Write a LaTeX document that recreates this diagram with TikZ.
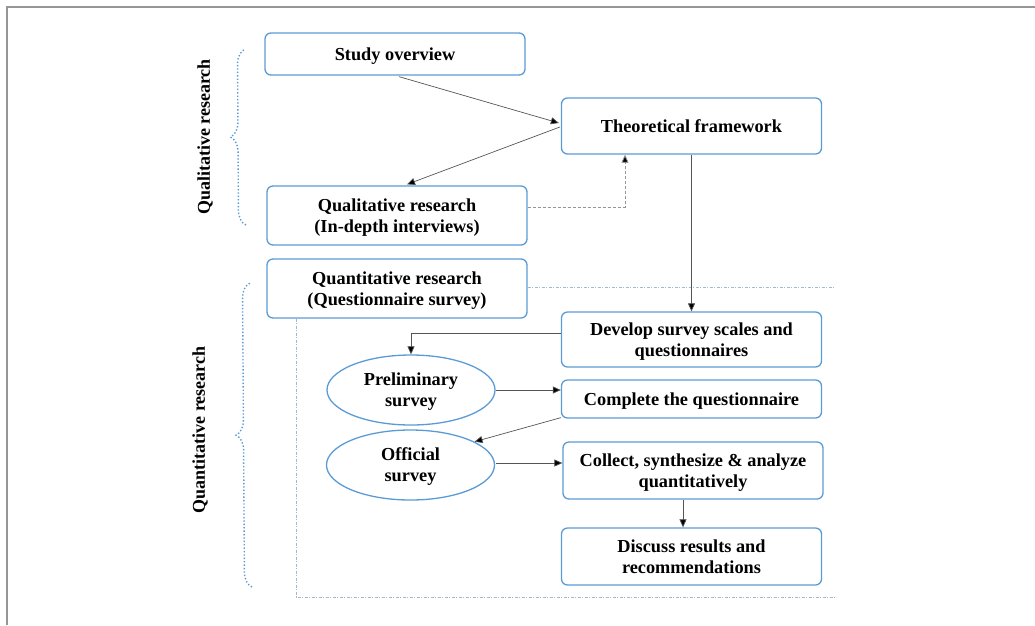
\documentclass[tikz,border=0pt]{standalone}
\usepackage{fontspec}
\setmainfont{Liberation Serif}
\usetikzlibrary{arrows.meta,decorations.pathreplacing,calc,shapes.geometric}
\definecolor{boxblue}{RGB}{91,155,213}
\definecolor{linegray}{RGB}{85,85,85}
\definecolor{framegray}{RGB}{150,150,150}
\definecolor{dashblue}{RGB}{160,185,205}
\tikzset{
  box/.style={draw=boxblue, line width=1.3pt, rounded corners=6pt, minimum width=260pt, align=center, font=\fontsize{18.3}{21}\selectfont\bfseries, inner sep=2pt, text depth=-3pt},
  oval/.style={draw=boxblue, line width=1.3pt, ellipse, minimum width=168pt, minimum height=70pt, align=center, font=\fontsize{18.3}{21}\selectfont\bfseries, inner sep=0pt, text depth=-3pt},
  conn/.style={draw=linegray, line width=0.7pt, -{Triangle[length=8pt,width=7pt,fill=black]}},
  dconn/.style={draw=framegray, line width=0.8pt, dash pattern=on 3pt off 2pt, -{Triangle[length=8pt,width=7pt,fill=black]}},
  sep/.style={draw=dashblue, line width=0.6pt, dash pattern=on 3pt off 1.5pt on 1pt off 1.5pt},
  brc/.style={draw=boxblue, line width=1.4pt, dotted, decorate, decoration={brace, amplitude=15pt, aspect=0.5}},
  side/.style={rotate=90, font=\fontsize{18}{21}\selectfont\bfseries},
}
\begin{document}
\begin{tikzpicture}[x=1pt,y=-1pt]
\useasboundingbox (0,0) rectangle (1035,625);
% frame
\coordinate (f1) at (7,625);
\coordinate (f2) at (7,7);
\coordinate (f3) at (1035,7);
\draw[framegray, line width=1.5pt] (f1) -- (f2) -- (f3);

% nodes
\node[box, minimum height=42pt] (so) at (395,54) {Study overview};
\node[box, minimum height=56pt] (tf) at (691.5,126) {Theoretical framework};
\node[box, minimum height=59pt] (ql) at (397,215.5) {Qualitative research\\(In-depth interviews)};
\node[box, minimum height=59pt] (qt) at (397,288.5) {Quantitative research\\(Questionnaire survey)};
\node[box, minimum height=55pt] (dv) at (691.5,339.5) {Develop survey scales and\\questionnaires};
\node[box, minimum height=38pt] (cq) at (691.5,399) {Complete the questionnaire};
\node[box, minimum height=57pt] (col) at (693,470.5) {Collect, synthesize \& analyze\\quantitatively};
\node[box, minimum height=57pt] (ds) at (691.5,556.5) {Discuss results and\\recommendations};
\node[oval] (pre) at (411,390) {Preliminary\\survey};
\node[oval] (off) at (410.5,465) {Official\\survey};

% side labels
\node[side] (lq) at (205,137) {Qualitative research};
\node[side] (lt) at (200,430) {Quantitative research};

% braces
\coordinate (b1s) at (246,225);
\coordinate (b1e) at (245,49);
\coordinate (b2s) at (252,587);
\coordinate (b2e) at (250,283);
\draw[brc] (b1s) -- (b1e);
\draw[brc] (b2s) -- (b2e);

% separators
\coordinate (r1) at (835,287);
\coordinate (bl) at (296,597);
\coordinate (br) at (835,597);
\draw[sep] (qt.east |- r1) -- (r1);
\draw[sep] (qt.south -| bl) -- (bl) -- (br);

% connectors
\draw[conn] ($(so.south)+(4,1)$) -- ($(tf.west)+(-2,-3)$);
\draw[conn] ($(tf.west)+(-1,1)$) -- ($(ql.north)+(10,-1)$);
\coordinate (dk) at (625,207);
\draw[dconn] (ql.east |- dk) -- (dk) -- (dk |- tf.south);
\draw[conn] (tf.south) -- (dv.north);
\draw[conn] ($(dv.west)+(0,-6)$) -| (pre.north);
\draw[conn] (pre.east) -- (pre.east -| cq.west);
\draw[conn] ($(cq.south west)+(0,-1)$) -- (off.20);
\draw[conn] ($(off.east)+(1,-2)$) -- ($(off.east -| col.west)+(0,-2)$);
\coordinate (cx) at (683,500);
\draw[conn] (col.south -| cx) -- (ds.north -| cx);
\end{tikzpicture}
\end{document}
